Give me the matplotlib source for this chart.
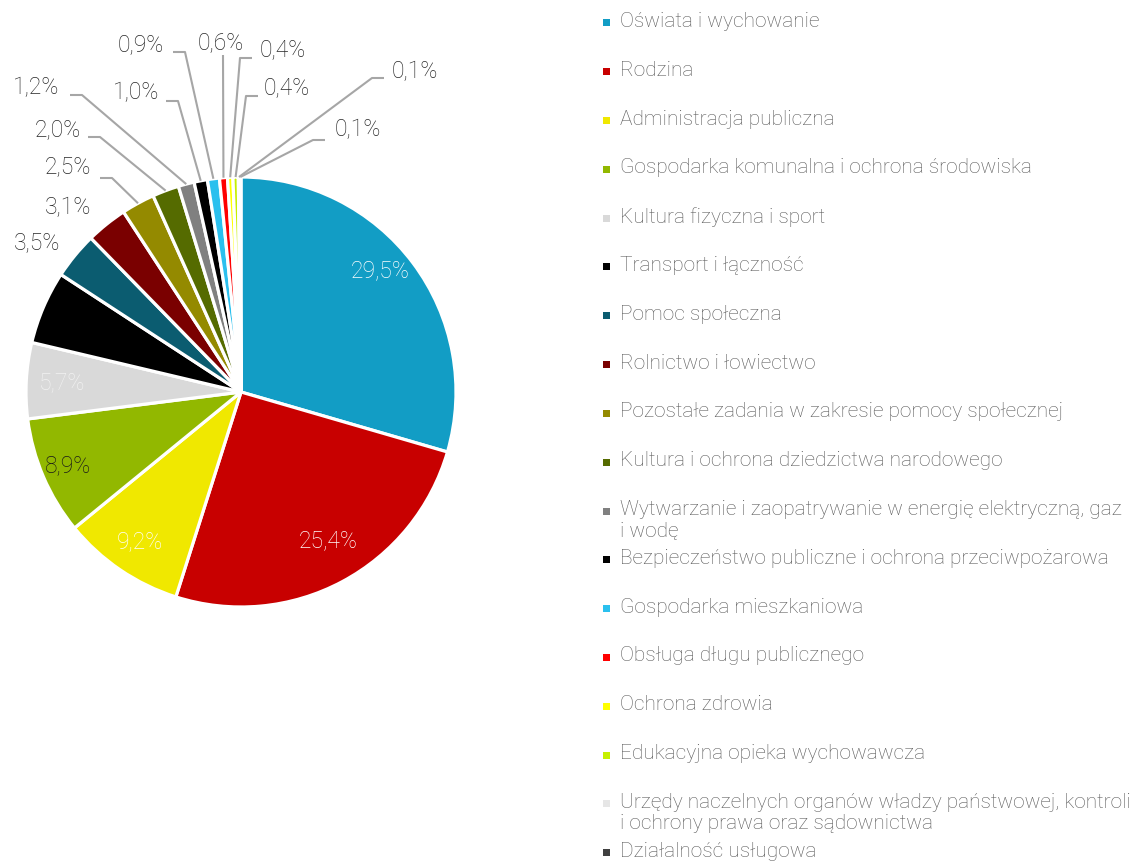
import matplotlib
matplotlib.use("Agg")
import matplotlib.pyplot as plt
from matplotlib.patches import Rectangle
import numpy as np

categories = [
    "Oświata i wychowanie",
    "Rodzina",
    "Administracja publiczna",
    "Gospodarka komunalna i ochrona środowiska",
    "Kultura fizyczna i sport",
    "Transport i łączność",
    "Pomoc społeczna",
    "Rolnictwo i łowiectwo",
    "Pozostałe zadania w zakresie pomocy społecznej",
    "Kultura i ochrona dziedzictwa narodowego",
    "Wytwarzanie i zaopatrywanie w energię elektryczną, gaz\ni wodę",
    "Bezpieczeństwo publiczne i ochrona przeciwpożarowa",
    "Gospodarka mieszkaniowa",
    "Obsługa długu publicznego",
    "Ochrona zdrowia",
    "Edukacyjna opieka wychowawcza",
    "Urzędy naczelnych organów władzy państwowej, kontroli\ni ochrony prawa oraz sądownictwa",
    "Działalność usługowa",
]
values = [29.5, 25.4, 9.2, 8.9, 5.7, 5.5, 3.5, 3.1, 2.5, 2.0, 1.2, 1.0, 0.9, 0.6, 0.4, 0.4, 0.1, 0.1]
labels = ["29,5%", "25,4%", "9,2%", "8,9%", "5,7%", "5,5%", "3,5%", "3,1%", "2,5%", "2,0%",
          "1,2%", "1,0%", "0,9%", "0,6%", "0,4%", "0,4%", "0,1%", "0,1%"]
colors = ["#129DC5", "#C80000", "#F0E800", "#92B800", "#D9D9D9", "#000000", "#0B5C70",
          "#7A0000", "#948A00", "#556B00", "#808080", "#000000", "#2BC0EE", "#FF0000",
          "#FFFF00", "#C6F000", "#E6E6E6", "#404040"]

FONT = ["Roboto", "DejaVu Sans"]
plt.rcParams["font.family"] = FONT

W, H = 1138, 863
fig = plt.figure(figsize=(W / 100, H / 100), dpi=100)
ax = fig.add_axes([0, 0, 1, 1])
cx, cy, R = 241, 392, 215

def px(x, y):
    return ((x - cx) / R, (cy - y) / R)

wedges, _ = ax.pie(values, colors=colors, startangle=90, counterclock=False,
                   radius=1.0, wedgeprops=dict(edgecolor="white", linewidth=2.3))
ax.set_aspect("auto")
ax.set_xlim(-cx / R, (W - cx) / R)
ax.set_ylim((cy - H) / R, cy / R)
ax.axis("off")

LFS = 16.5
LW = "light"
# inside labels (pixel positions of text centres, colours)
inside = {
    0: ((380, 271), "white"),
    1: ((328, 541), "white"),
    2: ((140, 542), "white"),
    3: ((68, 466), "#1A1A1A"),
    4: ((62, 383), "#F2F2F2"),
}
for i, ((x, y), c) in inside.items():
    ax.text(*px(x, y), labels[i], color=c, fontsize=LFS, ha="center", va="center",
            fontweight=LW)

# outside labels: text centre, elbow point (None = no leader)
outside = {
    6: ((37, 243), None),
    7: ((68, 208), None),
    8: ((68, 167), (112, 178)),
    9: ((58, 130), (100, 137)),
    10: ((36, 88), (82, 95)),
    11: ((136, 93), (178, 101)),
    12: ((141, 45), (185, 52)),
    13: ((221, 43), (223, 55)),
    14: ((283, 50), (240, 58)),
    15: ((287, 88), (246, 96)),
    16: ((415, 72), (372, 78)),
    17: ((358, 130), (313, 140)),
}
theta = 90.0
mids = []
for v in values:
    ang = theta - v * 3.6 / 2
    mids.append(ang)
    theta -= v * 3.6
for i, ((x, y), elbow) in outside.items():
    ax.text(*px(x, y), labels[i], color="#262626", fontsize=LFS, ha="center", va="center",
            fontweight=LW)
    if elbow is not None:
        a = np.deg2rad(mids[i])
        sx, sy = np.cos(a) * 1.0, np.sin(a) * 1.0
        ex, ey = px(*elbow)
        if x < elbow[0]:
            tx, ty = px(elbow[0] - 12, elbow[1])
        else:
            tx, ty = px(elbow[0] + 12, elbow[1])
        if i == 13:
            tx, ty = ex, ey
        ax.plot([tx, ex, sx], [ty, ey, sy], color="#A6A6A6", lw=1.5, solid_capstyle="butt")

# manual legend
y0, dy = 23, 48.8
for i, (cat, col) in enumerate(zip(categories, colors)):
    y = y0 + dy * i
    fig.patches.append(Rectangle(((606 - 3.5) / W, 1 - (y + 3.5) / H), 7 / W, 7 / H,
                                 transform=fig.transFigure, facecolor=col, edgecolor="none"))
    fig.text(620 / W, 1 - (y - 11) / H, cat, color="#595959", fontsize=15.0,
             ha="left", va="top", fontweight="light", linespacing=1.15)

fig.savefig("out.png", dpi=100, facecolor="white")
